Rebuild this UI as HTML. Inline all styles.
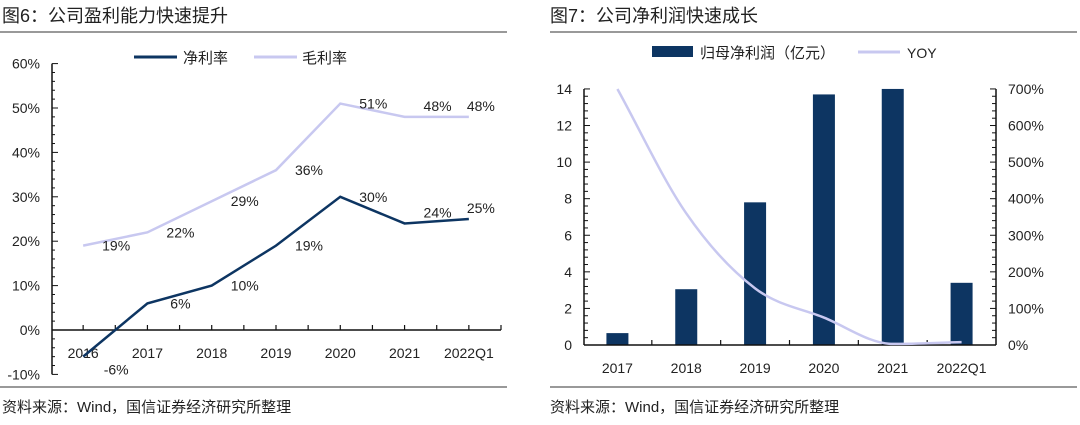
<!DOCTYPE html>
<html><head><meta charset="utf-8">
<style>
html,body{margin:0;padding:0;background:#fff;}
svg text{font-family:"Liberation Sans","Noto Sans CJK SC",sans-serif;fill:#222;}
</style></head>
<body>
<svg id="s" width="1080" height="420" viewBox="0 0 1080 420" xmlns="http://www.w3.org/2000/svg">
<text x="2" y="22" font-size="18">图6：公司盈利能力快速提升</text>
<line x1="0" y1="32" x2="507" y2="32" stroke="#333" stroke-width="1"/>
<line x1="0" y1="387" x2="507" y2="387" stroke="#333" stroke-width="1"/>
<text x="2" y="412" font-size="15">资料来源：Wind，国信证券经济研究所整理</text>
<text x="550" y="22" font-size="18">图7：公司净利润快速成长</text>
<line x1="550" y1="32" x2="1077" y2="32" stroke="#333" stroke-width="1"/>
<line x1="550" y1="387" x2="1077" y2="387" stroke="#333" stroke-width="1"/>
<text x="550" y="412" font-size="15">资料来源：Wind，国信证券经济研究所整理</text>
<line x1="134" y1="57" x2="177" y2="57" stroke="#0d3562" stroke-width="3"/>
<text x="183" y="63" font-size="15">净利率</text>
<line x1="254" y1="57" x2="297" y2="57" stroke="#c8c8f0" stroke-width="3"/>
<text x="302" y="63" font-size="15">毛利率</text>
<rect x="652" y="46" width="41" height="11" fill="#0d3562"/>
<text x="700" y="58" font-size="15">归母净利润（亿元）</text>
<line x1="858" y1="52" x2="900" y2="52" stroke="#c8c8f0" stroke-width="3"/>
<text x="907" y="58" font-size="14">YOY</text>
<g id="L"></g><g id="R"></g>
</svg>
<script>
const leftCats=["2016","2017","2018","2019","2020","2021","2022Q1"];
const netMargin=[-6,6,10,19,30,24,25];
const grossMargin=[19,22,29,36,51,48,48];
const leftTicks=[-10,0,10,20,30,40,50,60];
const rightCats=["2017","2018","2019","2020","2021","2022Q1"];
const profit=[0.65,3.05,7.8,13.7,14.0,3.4];
const yoy=[700,360,155,75,3,8];
const profitTicks=[0,2,4,6,8,10,12,14];
const yoyTicks=[0,100,200,300,400,500,600,700];
const NS="http://www.w3.org/2000/svg";
function mk(p,t,a){const e=document.createElementNS(NS,t);for(const k in a)e.setAttribute(k,a[k]);p.appendChild(e);return e;}
// left chart
const L=document.getElementById('L');
const lx0=51,lbw=450/leftCats.length;
const ly=v=>330-v*4.44;
const lxc=i=>lx0+lbw*(i+0.5);
let ax=mk(L,'line',{x1:52,y1:ly(60),x2:52,y2:ly(-10),stroke:'#111','stroke-width':1.5});


for(let v=-10;v<=60;v+=2){const major=v%10===0;mk(L,'line',{x1:52,y1:ly(v),x2:major?58:55,y2:ly(v),stroke:'#111','stroke-width':1});}
leftTicks.forEach(v=>{const t=mk(L,'text',{x:40,y:ly(v)+5,'font-size':14,'text-anchor':'end'});t.textContent=v+'%';

});
ax=mk(L,'line',{x1:52,y1:ly(0),x2:501,y2:ly(0),stroke:'#111','stroke-width':1.5});


for(let i=1;i<=leftCats.length*2;i++){const x=lx0+lbw*i/2;mk(L,'line',{x1:x,y1:ly(0),x2:x,y2:ly(0)-5,stroke:'#111','stroke-width':1.2});}
leftCats.forEach((c,i)=>{const t=mk(L,'text',{x:lxc(i),y:358,'font-size':14,'text-anchor':'middle'});t.textContent=c;

});
function lline(vals,color,name){const pts=vals.map((v,i)=>lxc(i)+','+ly(v)).join(' ');
const p=mk(L,'polyline',{points:pts,fill:'none',stroke:color,'stroke-width':2.5});


const n=vals.length;
vals.forEach((v,i)=>{let dx=i===n-1?12:33;let dy=5;if(i>=n-2)dy=-6;if(v<0)dy=18;
const t=mk(L,'text',{x:lxc(i)+dx,y:ly(v)+dy,'font-size':14,'text-anchor':'middle'});t.textContent=v+'%';

});}
lline(grossMargin,'#c8c8f0','gross-margin-line');
lline(netMargin,'#0d3562','net-margin-line');
// right chart
const R=document.getElementById('R');
const rx0=583,rx1=996,rbw=(rx1-rx0)/rightCats.length;
const ry=v=>345-v*18.29;
const ry2=v=>345-v*0.3657;
const rxc=i=>rx0+rbw*(i+0.5);
ax=mk(R,'line',{x1:584,y1:ry(14),x2:584,y2:ry(0),stroke:'#111','stroke-width':1.5});


ax=mk(R,'line',{x1:996,y1:ry(14),x2:996,y2:ry(0),stroke:'#111','stroke-width':1.5});


for(let k=0;k<=35;k++){const v=k*0.4,y=ry(v),major=k%5===0;
mk(R,'line',{x1:584,y1:y,x2:major?590:588,y2:y,stroke:'#111','stroke-width':1});
mk(R,'line',{x1:996,y1:y,x2:major?990:992,y2:y,stroke:'#111','stroke-width':1});}
profitTicks.forEach(v=>{const t=mk(R,'text',{x:572,y:ry(v)+5,'font-size':14,'text-anchor':'end'});t.textContent=v;

});
yoyTicks.forEach(v=>{const t=mk(R,'text',{x:1008,y:ry2(v)+5,'font-size':14});t.textContent=v+'%';

});
profit.forEach((v,i)=>{const b=mk(R,'rect',{x:rxc(i)-11,y:ry(v),width:22,height:ry(0)-ry(v),fill:'#0d3562'});

});
ax=mk(R,'line',{x1:584,y1:ry(0),x2:996,y2:ry(0),stroke:'#111','stroke-width':1.5});


for(let i=1;i<rightCats.length;i++){const x=rx0+rbw*i;mk(R,'line',{x1:x,y1:ry(0),x2:x,y2:ry(0)-5,stroke:'#111','stroke-width':1.2});}
rightCats.forEach((c,i)=>{const t=mk(R,'text',{x:rxc(i),y:373,'font-size':14,'text-anchor':'middle'});t.textContent=c;

});
// monotone cubic
const P=yoy.map((v,i)=>[rxc(i),ry2(v)]);
const n=P.length,sl=[],m=[];
for(let i=0;i<n-1;i++)sl.push((P[i+1][1]-P[i][1])/(P[i+1][0]-P[i][0]));
for(let i=0;i<n;i++){if(i===0)m.push(sl[0]);else if(i===n-1)m.push(sl[n-2]);else m.push(sl[i-1]*sl[i]<=0?0:(sl[i-1]+sl[i])/2);}
for(let i=0;i<n-1;i++){if(sl[i]===0){m[i]=m[i+1]=0;continue;}const a=m[i]/sl[i],b=m[i+1]/sl[i],s=a*a+b*b;if(s>9){const t=3/Math.sqrt(s);m[i]=t*a*sl[i];m[i+1]=t*b*sl[i];}}
let d='M'+P[0][0]+','+P[0][1];
for(let i=0;i<n-1;i++){const h=(P[i+1][0]-P[i][0])/3;
d+=' C'+(P[i][0]+h)+','+(P[i][1]+m[i]*h)+' '+(P[i+1][0]-h)+','+(P[i+1][1]-m[i+1]*h)+' '+P[i+1][0]+','+P[i+1][1];}
const yl=mk(R,'path',{d:d,fill:'none',stroke:'#c8c8f0','stroke-width':2.5});


</script>
</body></html>
